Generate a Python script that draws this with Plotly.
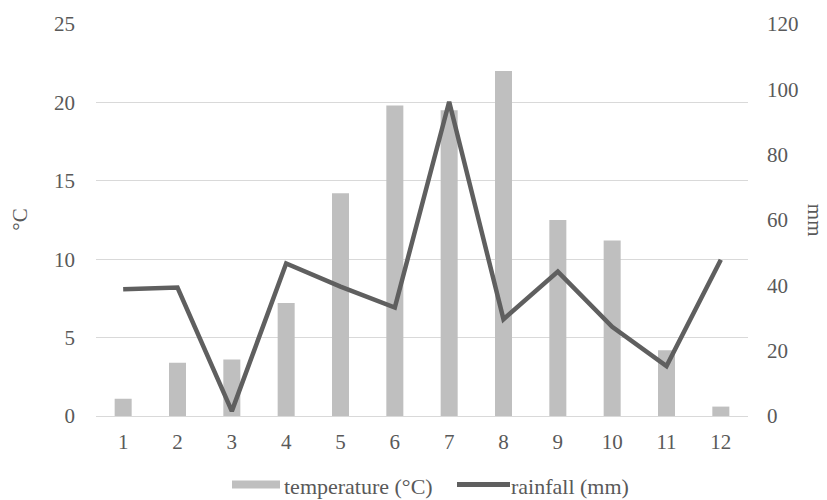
import plotly.graph_objects as go

months = [1, 2, 3, 4, 5, 6, 7, 8, 9, 10, 11, 12]
temperature = [1.1, 3.4, 3.6, 7.2, 14.2, 19.8, 19.5, 22.0, 12.5, 11.2, 4.2, 0.6]
rainfall = [38.8, 39.3, 1.5, 46.7, 39.6, 33.2, 96.2, 29.6, 44.2, 27.3, 15.3, 47.8]
temp_ticks = [0, 5, 10, 15, 20, 25]
rain_ticks = [0, 20, 40, 60, 80, 100, 120]

FONT = "Liberation Serif, Times New Roman, serif"
TXT = "#595959"
BAR = "#BFBFBF"
LINE = "#5F5F5F"
GRID = "#D9D9D9"

fig = go.Figure()
fig.add_trace(go.Bar(x=months, y=temperature, name="temperature (°C)",
                     marker=dict(color=BAR, line=dict(width=0)), yaxis="y"))
fig.add_trace(go.Scatter(x=months, y=rainfall, name="rainfall (mm)", mode="lines",
                         line=dict(color=LINE, width=4.5), yaxis="y2"))

fig.update_layout(
    width=827, height=500,
    margin=dict(l=96, r=79, t=24, b=84),
    paper_bgcolor="white", plot_bgcolor="white",
    font=dict(family=FONT, size=21, color=TXT),
    showlegend=False,
    bargap=0.687,
    xaxis=dict(type="category", showgrid=False, showline=True, linecolor=GRID, linewidth=1,
               ticks="", ticklabelstandoff=7, tickfont=dict(size=21, color=TXT, family=FONT)),
    yaxis=dict(range=[0, 25], tickvals=temp_ticks, showgrid=True, gridcolor=GRID, gridwidth=1,
               zeroline=False, ticks="", ticklabelstandoff=20, tickfont=dict(size=21, color=TXT, family=FONT)),
    yaxis2=dict(range=[0, 120], tickvals=rain_ticks, overlaying="y", side="right", showgrid=False,
                zeroline=False, ticks="", ticklabelstandoff=18, tickfont=dict(size=21, color=TXT, family=FONT)),
)

# axis titles
fig.add_annotation(text="°C", xref="paper", yref="paper", x=-0.117, y=0.5, showarrow=False,
                   textangle=-90, font=dict(size=21, color=TXT, family=FONT),
                   xanchor="center", yanchor="middle")
fig.add_annotation(text="mm", xref="paper", yref="paper", x=1.103, y=0.5, showarrow=False,
                   textangle=90, font=dict(size=21, color=TXT, family=FONT),
                   xanchor="center", yanchor="middle")

# custom legend
def px2x(px):
    return (px - 96) / 652.0

def py2y(py):
    return (416 - py) / 392.0

fig.add_shape(type="rect", xref="paper", yref="paper",
              x0=px2x(232), x1=px2x(280), y0=py2y(488.5), y1=py2y(480.5),
              fillcolor=BAR, line=dict(width=0))
fig.add_annotation(text="temperature (°C)", xref="paper", yref="paper",
                   x=px2x(282), y=py2y(486), showarrow=False, xanchor="left", yanchor="middle",
                   font=dict(size=22, color=TXT, family=FONT))
fig.add_shape(type="line", xref="paper", yref="paper",
              x0=px2x(457), x1=px2x(510), y0=py2y(484.5), y1=py2y(484.5),
              line=dict(color=LINE, width=5))
fig.add_annotation(text="rainfall (mm)", xref="paper", yref="paper",
                   x=px2x(509), y=py2y(486), showarrow=False, xanchor="left", yanchor="middle",
                   font=dict(size=22, color=TXT, family=FONT))

fig.write_html("out.html")
